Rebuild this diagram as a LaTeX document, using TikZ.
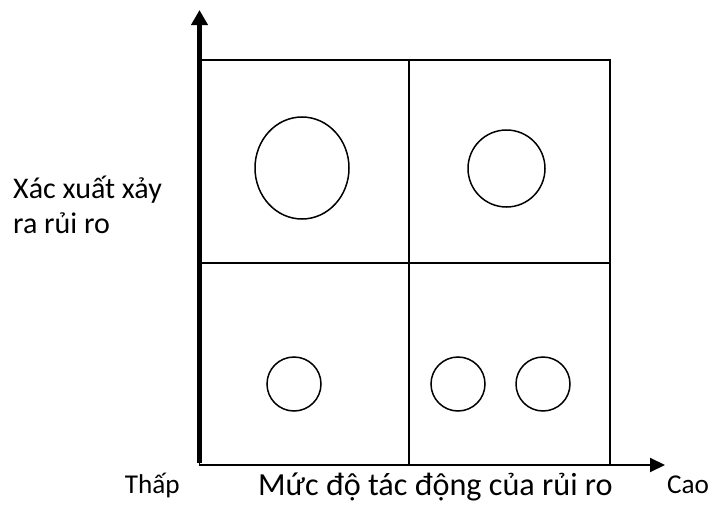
\documentclass[tikz,border=0pt]{standalone}
\usepackage{fontspec}
\setmainfont{Carlito}
\usetikzlibrary{arrows.meta,shapes.geometric}
\begin{document}
\begin{tikzpicture}[x=1pt,y=-1pt,
  grid/.style={line width=1.5pt, draw=black},
  bubble/.style={draw=black, line width=1.5pt, ellipse, inner sep=0pt},
  lbl/.style={inner sep=0pt, font=\fontsize{30}{35}\selectfont},
  end/.style={inner sep=0pt, font=\fontsize{27.2}{33}\selectfont},
  ttl/.style={inner sep=0pt, font=\fontsize{32.2}{39}\selectfont}]
\useasboundingbox (0,0) rectangle (713,506);
% axis coordinates
\coordinate (O) at (199.5,465);
\coordinate (Ytip) at (199.5,10);
\coordinate (Xtip) at (665,465);
% grid
\draw[grid] (199.5,60) rectangle (610,465);
\draw[grid] (409,60) -- (409,465);
\draw[grid] (199.5,263) -- (610,263);
% axes
\draw[line width=2pt, -{Triangle[length=15pt,width=14pt]}] (O) -- (Xtip);
\draw[line width=5pt, -{Triangle[length=15pt,width=16pt]}] ([yshift=2pt]O) -- (Ytip);
% bubbles
\node[bubble, minimum width=94pt, minimum height=102pt] (c1) at (302,168) {};
\node[bubble, minimum width=77pt, minimum height=77pt] (c2) at (506.5,168.5) {};
\node[bubble, minimum width=54pt, minimum height=54pt] (c3) at (294,384) {};
\node[bubble, minimum width=54pt, minimum height=54pt] (c4) at (458,384) {};
\node[bubble, minimum width=54pt, minimum height=54pt] (c5) at (543,384) {};
% labels
\node[lbl, anchor=base west] (ylab) at (13,198) {\begin{tabular}[t]{@{}l@{}}Xác xuất xảy\\ ra rủi ro\end{tabular}};
\node[end, anchor=base east] (low) at (180,493) {Thấp};
\node[end, anchor=base west] (high) at (667,493) {Cao};
\node[ttl, anchor=base west] (xlab) at (258,495) {Mức độ tác động của rủi ro};
\end{tikzpicture}
\end{document}
